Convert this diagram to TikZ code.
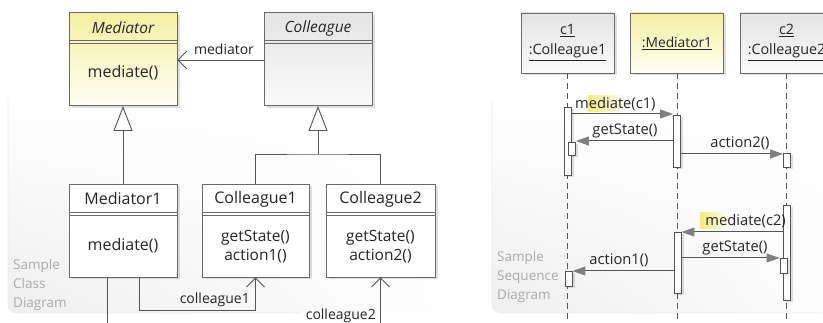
\documentclass[tikz,border=0pt]{standalone}
\usepackage{fontspec}
\setmainfont{Open Sans}
\usetikzlibrary{arrows.meta,shadows,calc,shadings}
\definecolor{linegray}{HTML}{555555}
\definecolor{boxgray}{HTML}{6A6A6A}
\definecolor{medtop}{HTML}{F4EFA2}
\definecolor{medbot}{HTML}{FFFFF4}
\definecolor{coltop}{HTML}{E4E4E4}
\definecolor{colbot}{HTML}{FAFAFA}
\definecolor{notegray}{HTML}{AAAAAA}
\definecolor{hl}{HTML}{F2EC7A}
\definecolor{tipgray}{HTML}{808080}
\definecolor{panelgray}{HTML}{EFEFEF}
\begin{document}
\begin{tikzpicture}[x=1pt,y=-1pt,
  panel/.style={draw=gray!16, line width=0.8pt, rounded corners=9pt},
  shad/.style={drop shadow={shadow xshift=2.5pt, shadow yshift=-2.5pt, opacity=0.12, fill=black}},
  clsbox/.style={draw=boxgray, line width=0.9pt, minimum width=108pt, minimum height=93pt, inner sep=0pt, shad},
  medfill/.style={top color=medtop, bottom color=medbot},
  colfill/.style={top color=coltop, bottom color=colbot},
  whitefill/.style={fill=white},
  txt/.style={inner sep=0pt, font=\fontsize{16}{19}\selectfont, text=black!85},
  lbl/.style={inner sep=0pt, font=\fontsize{14}{16}\selectfont, text=black!85},
  slbl/.style={inner sep=0pt, font=\fontsize{14.7}{17}\selectfont, text=black!85},
  note/.style={inner sep=0pt, font=\fontsize{13.5}{19}\selectfont, text=notegray, align=left, anchor=north west},
  conn/.style={draw=linegray, line width=0.9pt},
  gen/.style={conn, -{Triangle[open, length=25pt, width=19pt, fill=white, line width=0.9pt]}},
  assoc/.style={conn, -{Straight Barb[length=9pt, width=18pt, line width=0.9pt]}},
  objbox/.style={draw=boxgray, line width=0.9pt, minimum width=93pt, minimum height=60pt, inner sep=0pt, shad},
  life/.style={draw=linegray, line width=0.9pt, dash pattern=on 6pt off 4pt},
  act/.style={draw=linegray, fill=white, line width=0.9pt, minimum width=7pt, inner sep=0pt, shad},
  msg/.style={draw=linegray, line width=1pt, -{Triangle[length=13pt, width=9pt, color=tipgray, fill=tipgray]}},
]
\useasboundingbox (0,0) rectangle (823,323);
\clip (0,0) rectangle (823,323);
\fill[white] (0,0) rectangle (823,323);

% background panels
\shade[rounded corners=9pt, upper left=white, upper right=white, lower left=panelgray, lower right=white] (8,100) rectangle (470,313);
\draw[panel] (8,100) -- (8,313) -- (300,313);
\shade[rounded corners=9pt, upper left=white, upper right=white, lower left=panelgray, lower right=white] (492,100) rectangle (900,313);
\draw[panel] (492,100) -- (492,313) -- (840,313);

%%% CLASS DIAGRAM
\node[clsbox, medfill] (med) at (123,59) {};
\node[clsbox, colfill] (col) at (318,59) {};
\node[clsbox, whitefill] (med1) at (123,230.5) {};
\node[clsbox, whitefill, minimum width=107pt] (col1) at (255.5,230.5) {};
\node[clsbox, whitefill, minimum width=109pt] (col2) at (380.5,230.5) {};
\foreach \b in {med,col,med1,col1,col2}{
  \draw[draw=boxgray, line width=0.7pt] ($(\b.north west)+(0,28.5)$) -- ($(\b.north east)+(0,28.5)$);
  \draw[draw=boxgray, line width=0.7pt] ($(\b.north west)+(0,31.5)$) -- ($(\b.north east)+(0,31.5)$);
}
\node[txt, font=\fontsize{15.5}{19}\selectfont\itshape] (medt) at (123,28) {Mediator};
\node[txt] (medo) at (123,73) {mediate()};
\node[txt, font=\fontsize{15.5}{19}\selectfont\itshape] (colt) at (318,28) {Colleague};
\node[txt] (med1t) at (123,199) {Mediator1};
\node[txt] (med1o) at (123,246) {mediate()};
\node[txt] (col1t) at (255.5,199) {Colleague1};
\node[txt, align=center, font=\fontsize{15.5}{19}\selectfont] (col1o) at (255.5,247) {getState()\\action1()};
\node[txt] (col2t) at (380.5,199) {Colleague2};
\node[txt, align=center, font=\fontsize{15.5}{19}\selectfont] (col2o) at (380.5,247) {getState()\\action2()};

\draw[assoc] (col.west |- 0,60) -- (med.east |- 0,60);
\node[lbl] (lmed) at (224,49) {mediator};

\draw[gen] (med1.north) -- (med.south);
\coordinate (hub) at (318,154);
\draw[gen] (hub) -- (col.south);
\draw[conn] (col1.north) |- (hub) -| (col2.north);

\coordinate (m1out) at ($(med1.south west)+(39,0)$);
\coordinate (m1down) at (m1out |- 0,330);
\draw[conn] (m1out) -- (m1down);
\coordinate (m1c1) at ($(med1.south west)+(71,0)$);
\coordinate (c1bend) at (m1c1 |- 0,310);
\draw[assoc] (m1c1) -- (c1bend) -| (col1.south);
\node[lbl, anchor=east] (lc1) at (250,299.5) {colleague1};
\coordinate (c2from) at (col2.south |- 0,330);
\draw[assoc] (c2from) -- (col2.south);
\node[lbl, anchor=east] (lc2) at (376,315.5) {colleague2};

\node[note] (ncls) at (13,259) {Sample\\Class\\Diagram};

%%% SEQUENCE DIAGRAM
\node[objbox, colfill] (oc1) at (567.5,43) {};
\node[objbox, medfill] (om) at (677,43) {};
\node[objbox, colfill] (oc2) at (786.5,43) {};
\node[txt, align=center, font=\fontsize{14.3}{20}\selectfont] (oc1t) at (567.5,42.5) {\underline{c1}\\\underline{:Colleague1}};
\node[txt, font=\fontsize{13.8}{16}\selectfont] (omt) at (677,43) {\underline{:Mediator1}};
\node[txt, align=center, font=\fontsize{14.3}{20}\selectfont] (oc2t) at (786.5,42.5) {\underline{c2}\\\underline{:Colleague2}};

\coordinate (l1end) at (oc1.south |- 0,330);
\coordinate (l2end) at (om.south |- 0,330);
\coordinate (l3end) at (oc2.south |- 0,330);
\draw[life] (oc1.south) -- (l1end);
\draw[life] (om.south) -- (l2end);
\draw[life] (oc2.south) -- (l3end);

% activations
\node[act, minimum height=68pt] (a1) at (568,141) {};
\node[act, minimum height=13pt] (a1n) at (572,148.5) {};
\node[act, minimum height=52pt] (am1) at (677,141) {};
\node[act, minimum height=14pt] (ac21) at (787,160) {};
\node[act, minimum height=95pt] (ac22) at (786.5,252.5) {};
\node[act, minimum height=15pt] (ac22n) at (783.5,265.5) {};
\node[act, minimum height=61pt] (am2) at (677.5,262.5) {};
\node[act, minimum height=15pt] (a12) at (568.5,278.5) {};

% messages
\shade[left color=hl, right color=white] (588,96) rectangle (626,112);
\draw[msg] (a1.east |- 0,114) -- (am1.west |- 0,114);
\node[slbl, anchor=west] (lm1) at (575,104.5) {mediate(c1)};

\draw[msg] (am1.west |- 0,141) -- (a1n.east |- 0,141);
\node[slbl] (lg1) at (625,131) {getState()};

\draw[msg] (am1.east |- 0,154) -- (ac21.west |- 0,154);
\node[slbl] (la2) at (740,143.5) {action2()};

\shade[left color=hl, right color=white] (700,213) rectangle (730,229);
\draw[msg] (ac22.west |- 0,232) -- (am2.east |- 0,232);
\node[slbl, anchor=east] (lm2) at (786,221.5) {mediate(c2)};

\draw[msg] (am2.east |- 0,258) -- (ac22n.west |- 0,258);
\node[slbl] (lg2) at (735,248) {getState()};

\draw[msg] (am2.west |- 0,271) -- (a12.east |- 0,271);
\node[slbl] (la1) at (619,260.5) {action1()};

\node[note] (nseq) at (497,251) {Sample\\Sequence\\Diagram};
\end{tikzpicture}
\end{document}
